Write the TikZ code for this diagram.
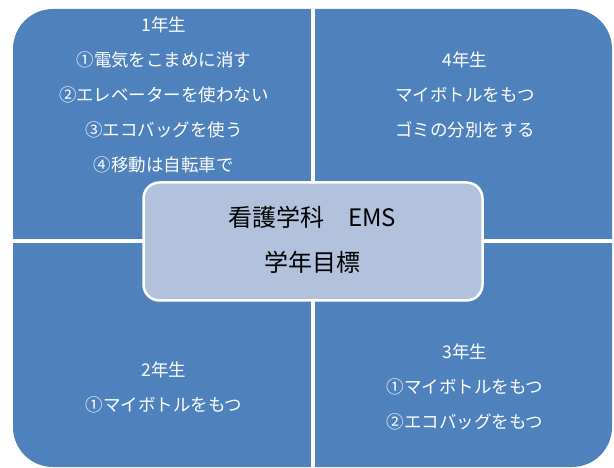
\documentclass[tikz,border=0pt]{standalone}
\usepackage{fontspec}
\newfontfamily\jpfont{Noto Sans CJK JP}
\definecolor{quadblue}{HTML}{4F81BD}
\definecolor{centerblue}{HTML}{B2C1DC}
\begin{document}
\begin{tikzpicture}[x=1pt,y=-1pt,
  quadtext/.style={align=center,text=white,inner sep=0pt,
    font={\jpfont\fontsize{17.5}{35}\selectfont}},
  centertext/.style={align=center,text=black,inner sep=0pt,
    font={\jpfont\fontsize{24}{45}\selectfont}},
  divider/.style={white,line width=3.2pt}]
\useasboundingbox (0,0) rectangle (614,468);
% outer blue field
\fill[quadblue,rounded corners=40pt] (13,9) rectangle (612,467);
% dividers
\coordinate (vtop) at (313,9);
\coordinate (vbot) at (313,468);
\coordinate (hleft) at (13,241);
\coordinate (hright) at (612,241);
\draw[divider] (vtop) -- (vbot);
\draw[divider] (hleft) -- (hright);
% center box
\node[draw=white,line width=2.5pt,fill=centerblue,rounded corners=16pt,
  minimum width=339pt,minimum height=118pt,inner sep=0pt] (center) at (313,241.5) {};
\node[centertext] (ctext) at (312,240) {看護学科　EMS\\学年目標};
% quadrant texts
\node[quadtext] (q1) at (164,95) {1年生\\①電気をこまめに消す\\②エレベーターを使わない\\③エコバッグを使う\\④移動は自転車で};
\node[quadtext] (q4) at (465,95) {4年生\\マイボトルをもつ\\ゴミの分別をする};
\node[quadtext] (q2) at (164,387.5) {2年生\\①マイボトルをもつ};
\node[quadtext] (q3) at (465,387) {3年生\\①マイボトルをもつ\\②エコバッグをもつ};
\end{tikzpicture}
\end{document}
